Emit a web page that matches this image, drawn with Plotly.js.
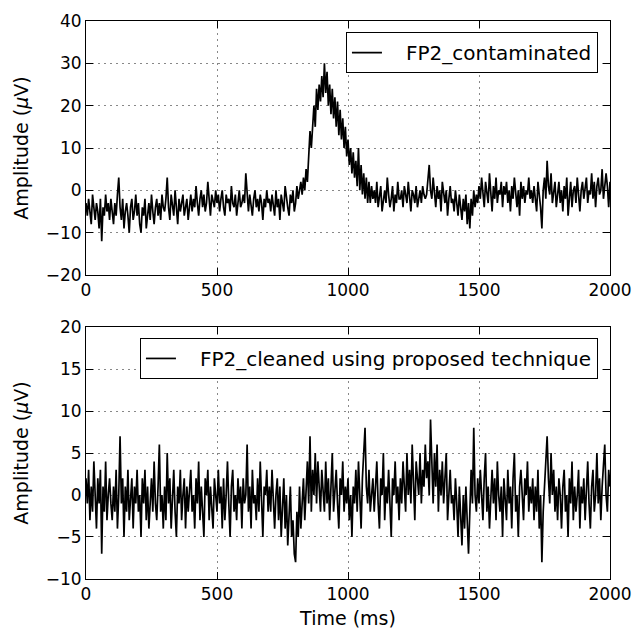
<!DOCTYPE html>
<html>
<head>
<meta charset="utf-8">
<script src="https://cdn.plot.ly/plotly-3.0.1.min.js"></script>
<style>html,body{margin:0;padding:0;background:#fff;}#chart{width:634px;height:634px;}</style>
</head>
<body>
<div id="chart"></div>
<script>
// Sampling interval of the readings (ms)
const sampleStepMs = 5;

// FP2 contaminated signal (µV), read every 5 ms from 0 to 2000 ms
const contaminated = [
  -3,-6,-2,-5,-8,-1,-4,-7,-3,-5,-9,-2,-12,-4,-6,-1,-5,-3,-7,-2,
  -5,-8,-3,-6,-1,3,-4,-7,-2,-9,-5,-3,-6,-10,-4,-2,-7,-5,-1,-6,
  -3,-8,-10,-4,-6,-2,-9,-5,-3,-7,-1,-5,-8,-4,-2,-6,-3,-7,-1,-4,
  -5,-2,3,-4,-7,-1,-3,-6,0,-4,-8,-2,-5,-3,-1,-6,-4,-2,-7,-3,
  -1,-5,-2,-4,1,-3,-6,-2,0,-4,-1,-5,-3,2,-2,-6,-1,-3,-4,0,
  -3,-1,-5,-2,0,-4,-6,-1,-3,-2,-5,1,-3,-4,-1,-6,-2,0,-4,-3,
  -1,-3,4,-2,-5,-1,-3,-6,-2,0,-4,-2,-5,-1,-3,-7,-2,-4,0,-3,
  -2,-5,-1,-3,-6,0,-4,-2,-7,-1,-3,-5,1,-2,-4,-6,-1,-3,0,-5,
  -3,1,-2,0,2,-1,3,0,5,2,9,14,10,17,20,15,24,19,25,21,
  27,22,30,23,28,20,25,18,24,17,22,15,21,13,19,12,17,10,15,8,
  12,6,10,4,9,3,7,1,10,0,6,-1,4,-2,3,-3,2,-3,1,-2,
  0,-3,2,-4,-1,1,-5,-2,0,-3,3,-1,-4,-2,1,-5,-1,-3,2,-2,
  -2,0,-4,1,-1,-3,2,-2,-5,0,-1,-3,1,-4,-2,0,-3,1,-1,-2,
  -1,2,6,0,-2,3,-1,-4,1,-2,0,-5,2,-1,-3,0,-6,-2,1,-3,
  -2,-5,0,-3,-6,-1,-4,-7,-2,-5,-1,-8,-3,-9,-2,-6,0,-4,-1,-3,
  1,-2,3,-1,-4,2,0,-3,4,-1,-5,1,-2,3,-3,0,-1,2,-4,1,
  -1,2,-3,0,-5,1,-2,3,-1,-4,0,-6,2,-2,1,-3,0,-1,3,-2,
  0,-3,1,-2,-5,2,-1,-4,-9,0,3,-2,7,1,-1,4,-3,0,2,-4,
  -1,2,-3,0,-5,1,-2,3,-6,-1,2,-4,0,1,-3,3,-2,-5,0,2,
  -2,1,3,-3,0,-1,4,-2,2,-4,1,3,-1,0,5,-2,2,4,1,-4,2
];

// FP2 cleaned signal (µV), read every 5 ms from 0 to 2000 ms
const cleaned = [
  2,-1,3,-3,1,-2,4,0,-4,2,-1,3,-7,1,-2,4,-3,0,2,-1,
  -3,1,-2,3,-4,0,7,-1,2,-5,1,-2,3,-3,0,2,-4,1,-1,3,
  -2,0,-5,2,-1,3,-3,1,-4,0,2,-2,4,-1,-3,1,6,-2,0,-4,
  1,-3,5,-1,2,-4,0,3,-2,-5,1,-1,3,-3,0,2,-4,1,-2,0,
  3,-2,0,-4,2,-1,4,-3,1,-2,-5,2,0,3,-3,1,-1,-4,2,0,
  -2,3,-1,1,-4,2,-3,0,4,-1,-5,1,3,-2,0,-3,2,-1,1,-4,
  2,-1,0,6,-2,1,-4,3,-1,0,-3,2,-2,4,-1,-5,1,0,3,-2,
  1,-2,3,-1,-4,0,2,-3,1,-5,-1,2,-4,0,-6,-2,1,-5,-3,-7,
  -8,-2,-5,1,-4,-1,2,-3,0,4,-1,7,-2,3,0,5,-1,4,1,-2,
  3,0,-2,4,-1,2,-3,1,5,-2,0,3,-1,-4,2,0,4,-2,1,-1,
  2,-3,0,-5,1,-1,3,-2,4,0,-4,2,5,8,1,-1,3,-2,0,2,
  -2,1,4,-1,-4,2,0,5,-3,1,-1,3,-2,-5,2,0,4,-1,1,-3,
  2,-1,4,1,-2,5,0,3,-1,6,1,-3,4,2,0,5,-1,3,1,6,
  2,4,0,9,3,-1,5,1,6,-2,3,0,4,-1,2,5,-3,1,3,-1,
  0,-3,2,-1,-5,1,-2,-6,0,-4,1,-3,-7,-2,3,-1,8,0,-2,2,
  -1,3,0,-3,2,5,-2,1,-4,0,3,-1,2,-3,4,0,-2,1,-5,2,
  0,-3,3,-1,1,-4,2,5,-2,0,-5,1,3,-1,-3,2,0,4,-2,1,
  -1,2,-3,1,-2,3,-4,0,-8,-2,1,4,7,2,-1,5,0,3,-2,1,
  -3,2,0,-4,1,3,-2,0,-5,2,-1,4,-3,1,-2,0,3,-4,1,-1,
  2,-3,0,4,-1,-4,1,3,-2,0,5,-1,2,-3,1,4,6,0,-2,3,1
];

const seriesNames = ["FP2_contaminated", "FP2_cleaned using proposed technique"];
const xTicks = [0, 500, 1000, 1500, 2000];
const yTicksTop = [-20, -10, 0, 10, 20, 30, 40];
const yTicksBottom = [-10, -5, 0, 5, 10, 15, 20];

const timeTop = contaminated.map((_, i) => i * sampleStepMs);
const timeBottom = cleaned.map((_, i) => i * sampleStepMs);

const FONT = "DejaVu Sans, sans-serif";
const PAD = "\u00a0\u00a0\u00a0";

const traces = [
  {x: timeTop, y: contaminated, type: "scatter", mode: "lines", name: PAD + seriesNames[0],
   line: {color: "#000", width: 1.7}, xaxis: "x", yaxis: "y", legend: "legend"},
  {x: timeBottom, y: cleaned, type: "scatter", mode: "lines", name: PAD + seriesNames[1],
   line: {color: "#000", width: 1.7}, xaxis: "x2", yaxis: "y2", legend: "legend2"}
];

function xAx(extra) {
  return Object.assign({
    range: [0, 2000], tickvals: xTicks, ticktext: xTicks.map(String),
    ticks: "inside", ticklen: 7, tickcolor: "#000", tickwidth: 1,
    showline: true, linecolor: "#000", linewidth: 1, mirror: "ticks",
    showgrid: true, gridcolor: "#888", griddash: "2px,4px", gridwidth: 1,
    zeroline: false, tickfont: {family: FONT, size: 17, color: "#000"}
  }, extra);
}
function yAx(range, ticks, extra) {
  return Object.assign({
    range: range, tickvals: ticks, ticktext: ticks.map(v => v < 0 ? "\u2212" + Math.abs(v) : String(v)),
    ticks: "inside", ticklen: 7, tickcolor: "#000", tickwidth: 1,
    showline: true, linecolor: "#000", linewidth: 1, mirror: "ticks",
    showgrid: true, gridcolor: "#888", griddash: "2px,4px", gridwidth: 1,
    zeroline: false, tickfont: {family: FONT, size: 17, color: "#000"},
    title: {text: "Amplitude (<i>\u03bc</i>V)", font: {family: FONT, size: 19, color: "#000"}, standoff: 12}
  }, extra);
}

const layout = {
  width: 634, height: 634,
  margin: {l: 86, r: 24, t: 21, b: 55},
  paper_bgcolor: "#fff", plot_bgcolor: "#fff",
  font: {family: FONT, color: "#000"},
  showlegend: true,
  xaxis: xAx({domain: [0, 1], anchor: "y"}),
  yaxis: yAx([-20, 40], yTicksTop, {domain: [0.5448, 1], anchor: "x"}),
  xaxis2: xAx({domain: [0, 1], anchor: "y2",
    title: {text: "Time (ms)", font: {family: FONT, size: 19, color: "#000"}, standoff: 8}}),
  yaxis2: yAx([-10, 20], yTicksBottom, {domain: [0, 0.4516], anchor: "x2"}),
  legend: {x: 0.977, xanchor: "right", y: 0.980, yanchor: "top",
    bgcolor: "#fff", bordercolor: "#000", borderwidth: 1,
    font: {family: FONT, size: 20, color: "#000"}, itemwidth: 30},
  legend2: {x: 0.977, xanchor: "right", y: 0.432, yanchor: "top",
    bgcolor: "#fff", bordercolor: "#000", borderwidth: 1,
    font: {family: FONT, size: 20, color: "#000"}, itemwidth: 30}
};

Plotly.newPlot("chart", traces, layout, {displayModeBar: false, staticPlot: true});
</script>
</body>
</html>
